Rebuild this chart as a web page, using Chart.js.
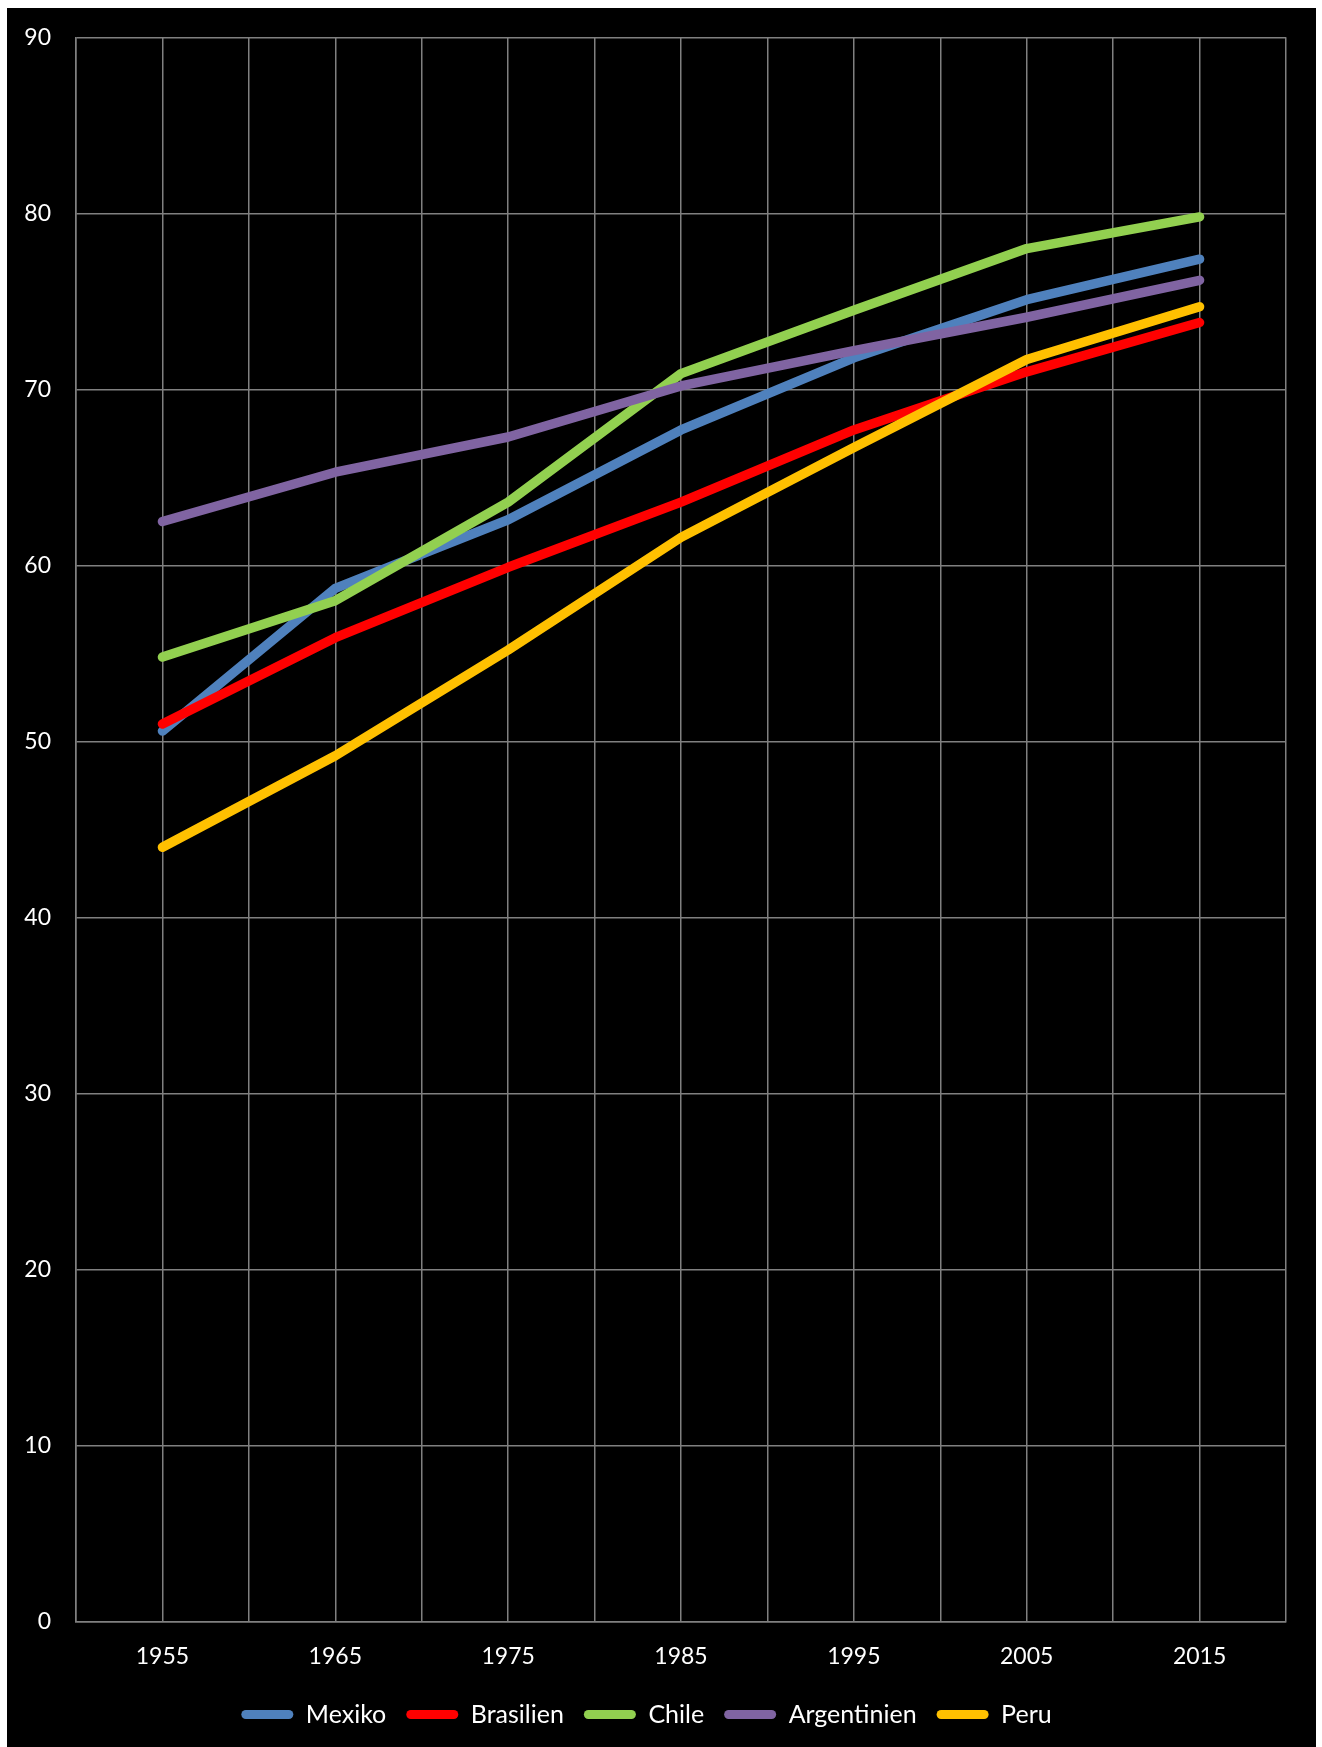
<!DOCTYPE html>
<html>
<head>
<meta charset="utf-8">
<script src="https://cdn.jsdelivr.net/npm/chart.js@4/dist/chart.umd.min.js"></script>
<style>
  body { margin: 0; background: #fff; }
  #wrap { position: absolute; left: 7px; top: 8px; width: 1309px; height: 1739px; background: #000; }
</style>
</head>
<body>
<div id="wrap"><canvas id="myChart"></canvas></div>
<script>
// 年份（每十年一個點）
const years = [1955, 1965, 1975, 1985, 1995, 2005, 2015];

// 各國數據
const mexiko      = [50.6, 58.7, 62.6, 67.7, 71.8, 75.1, 77.4];
const brasilien   = [51.0, 55.9, 59.9, 63.6, 67.7, 71.0, 73.8];
const chile       = [54.8, 58.0, 63.6, 70.9, 74.5, 78.0, 79.8];
const argentinien = [62.5, 65.3, 67.3, 70.2, 72.2, 74.1, 76.2];
const peru        = [44.0, 49.2, 55.2, 61.6, 66.7, 71.7, 74.7];

// y 軸刻度
const yMin = 0, yMax = 90, yStep = 10;

const toPoints = (vals) => vals.map((v, i) => ({ x: years[i], y: v }));

function makeSet(label, vals, color, order) {
    return {
        label: label,
        data: toPoints(vals),
        borderColor: color,
        backgroundColor: color,
        borderWidth: 9.5,
        borderCapStyle: 'round',
        borderJoinStyle: 'round',
        pointRadius: 0,
        tension: 0,
        fill: false,
        order: order
    };
}

const font = { family: 'Lato', size: 23 };

const ctx = document.getElementById('myChart').getContext('2d');
const myChart = new Chart(ctx, {
    type: 'line',
    data: {
        datasets: [
            makeSet('Mexiko', mexiko, '#4F81BD', 5),
            makeSet('Brasilien', brasilien, '#FF0000', 4),
            makeSet('Chile', chile, '#92D050', 3),
            makeSet('Argentinien', argentinien, '#8064A2', 2),
            makeSet('Peru', peru, '#FFC000', 1)
        ]
    },
    options: {
        responsive: true,
        maintainAspectRatio: false,
        animation: false,
        layout: { padding: { top: 29.3, right: 30, left: 0, bottom: 10 } },
        scales: {
            x: {
                type: 'linear',
                min: 1950,
                max: 2020,
                afterFit: (s) => { s.height = 60; },
                grid: { color: '#808080', lineWidth: 1.5, drawTicks: false },
                border: { color: '#808080', width: 1.5 },
                ticks: {
                    stepSize: 5,
                    autoSkip: false,
                    maxRotation: 0,
                    padding: 21,
                    color: '#fff',
                    font: font,
                    callback: (v) => ((v - 1955) % 10 === 0 ? String(v) : '')
                }
            },
            y: {
                min: yMin,
                max: yMax,
                afterFit: (s) => { s.width = 69; s.paddingTop = 0; s.paddingBottom = 0; },
                grid: { color: '#808080', lineWidth: 1.5, drawTicks: false },
                border: { color: '#808080', width: 1.5 },
                ticks: { stepSize: yStep, padding: 25, color: '#fff', font: font }
            }
        },
        plugins: {
            tooltip: { enabled: false },
            legend: {
                position: 'bottom',
                labels: {
                    color: '#fff',
                    font: { family: 'Lato', size: 25 },
                    boxWidth: 52,
                    boxHeight: 9,
                    useBorderRadius: true,
                    borderRadius: 4.5,
                    padding: 20,
                    sort: (a, b) => a.datasetIndex - b.datasetIndex,
                    generateLabels: (chart) =>
                        Chart.defaults.plugins.legend.labels.generateLabels(chart)
                            .map(l => Object.assign(l, { lineWidth: 0 }))
                }
            }
        }
    }
});
</script>
</body>
</html>
